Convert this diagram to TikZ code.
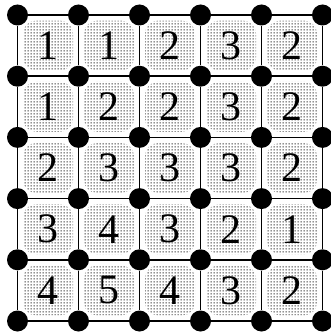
\documentclass[tikz,border=0pt]{standalone}
\usepackage{fontspec}
\setmainfont{Liberation Serif}
\usetikzlibrary{patterns}
\pgfdeclarepatternformonly{stipple}{\pgfpointorigin}{\pgfpoint{3pt}{3pt}}{\pgfpoint{3pt}{3pt}}{
  \pgfpathrectangle{\pgfpoint{0.8pt}{0.8pt}}{\pgfpoint{1.3pt}{1.3pt}}
  \pgfusepath{fill}
}
\tikzset{
  vertex/.style={circle,fill=black,inner sep=0pt,minimum size=21pt},
  cellnum/.style={font=\fontsize{42}{42}\selectfont,inner sep=0pt},
  patch/.style={pattern=stipple,pattern color=black,rounded corners=13pt},
}
\begin{document}
\begin{tikzpicture}[x=1pt,y=-1pt]
  \useasboundingbox (0,0) rectangle (330,334);
  % stippled cells with their numbers
  \foreach \r/\row in {0/{1,1,2,3,2},1/{1,2,2,3,2},2/{2,3,3,3,2},3/{3,4,3,2,1},4/{4,5,4,3,2}} {
    \foreach \v [count=\c from 0] in \row {
      \fill[patch] (23+61*\c,20.6+61.2*\r) rectangle (73+61*\c,70.6+61.2*\r);
      \node[cellnum] (n-\r-\c) at (48+61*\c,45.6+61.2*\r) {\v};
    }
  }
  % lattice points
  \foreach \i in {0,...,5} {
    \foreach \j in {0,...,5} {
      \node[vertex] (v-\i-\j) at (17.5+61*\i,15+61.2*\j) {};
    }
  }
  % lattice edges
  \foreach \i in {0,...,4} {
    \foreach \j in {0,...,5} {
      \pgfmathtruncatemacro{\k}{\i+1}
      \draw[line width=1.5pt] (v-\i-\j) -- (v-\k-\j);
      \draw[line width=1.5pt] (v-\j-\i) -- (v-\j-\k);
    }
  }
\end{tikzpicture}
\end{document}
